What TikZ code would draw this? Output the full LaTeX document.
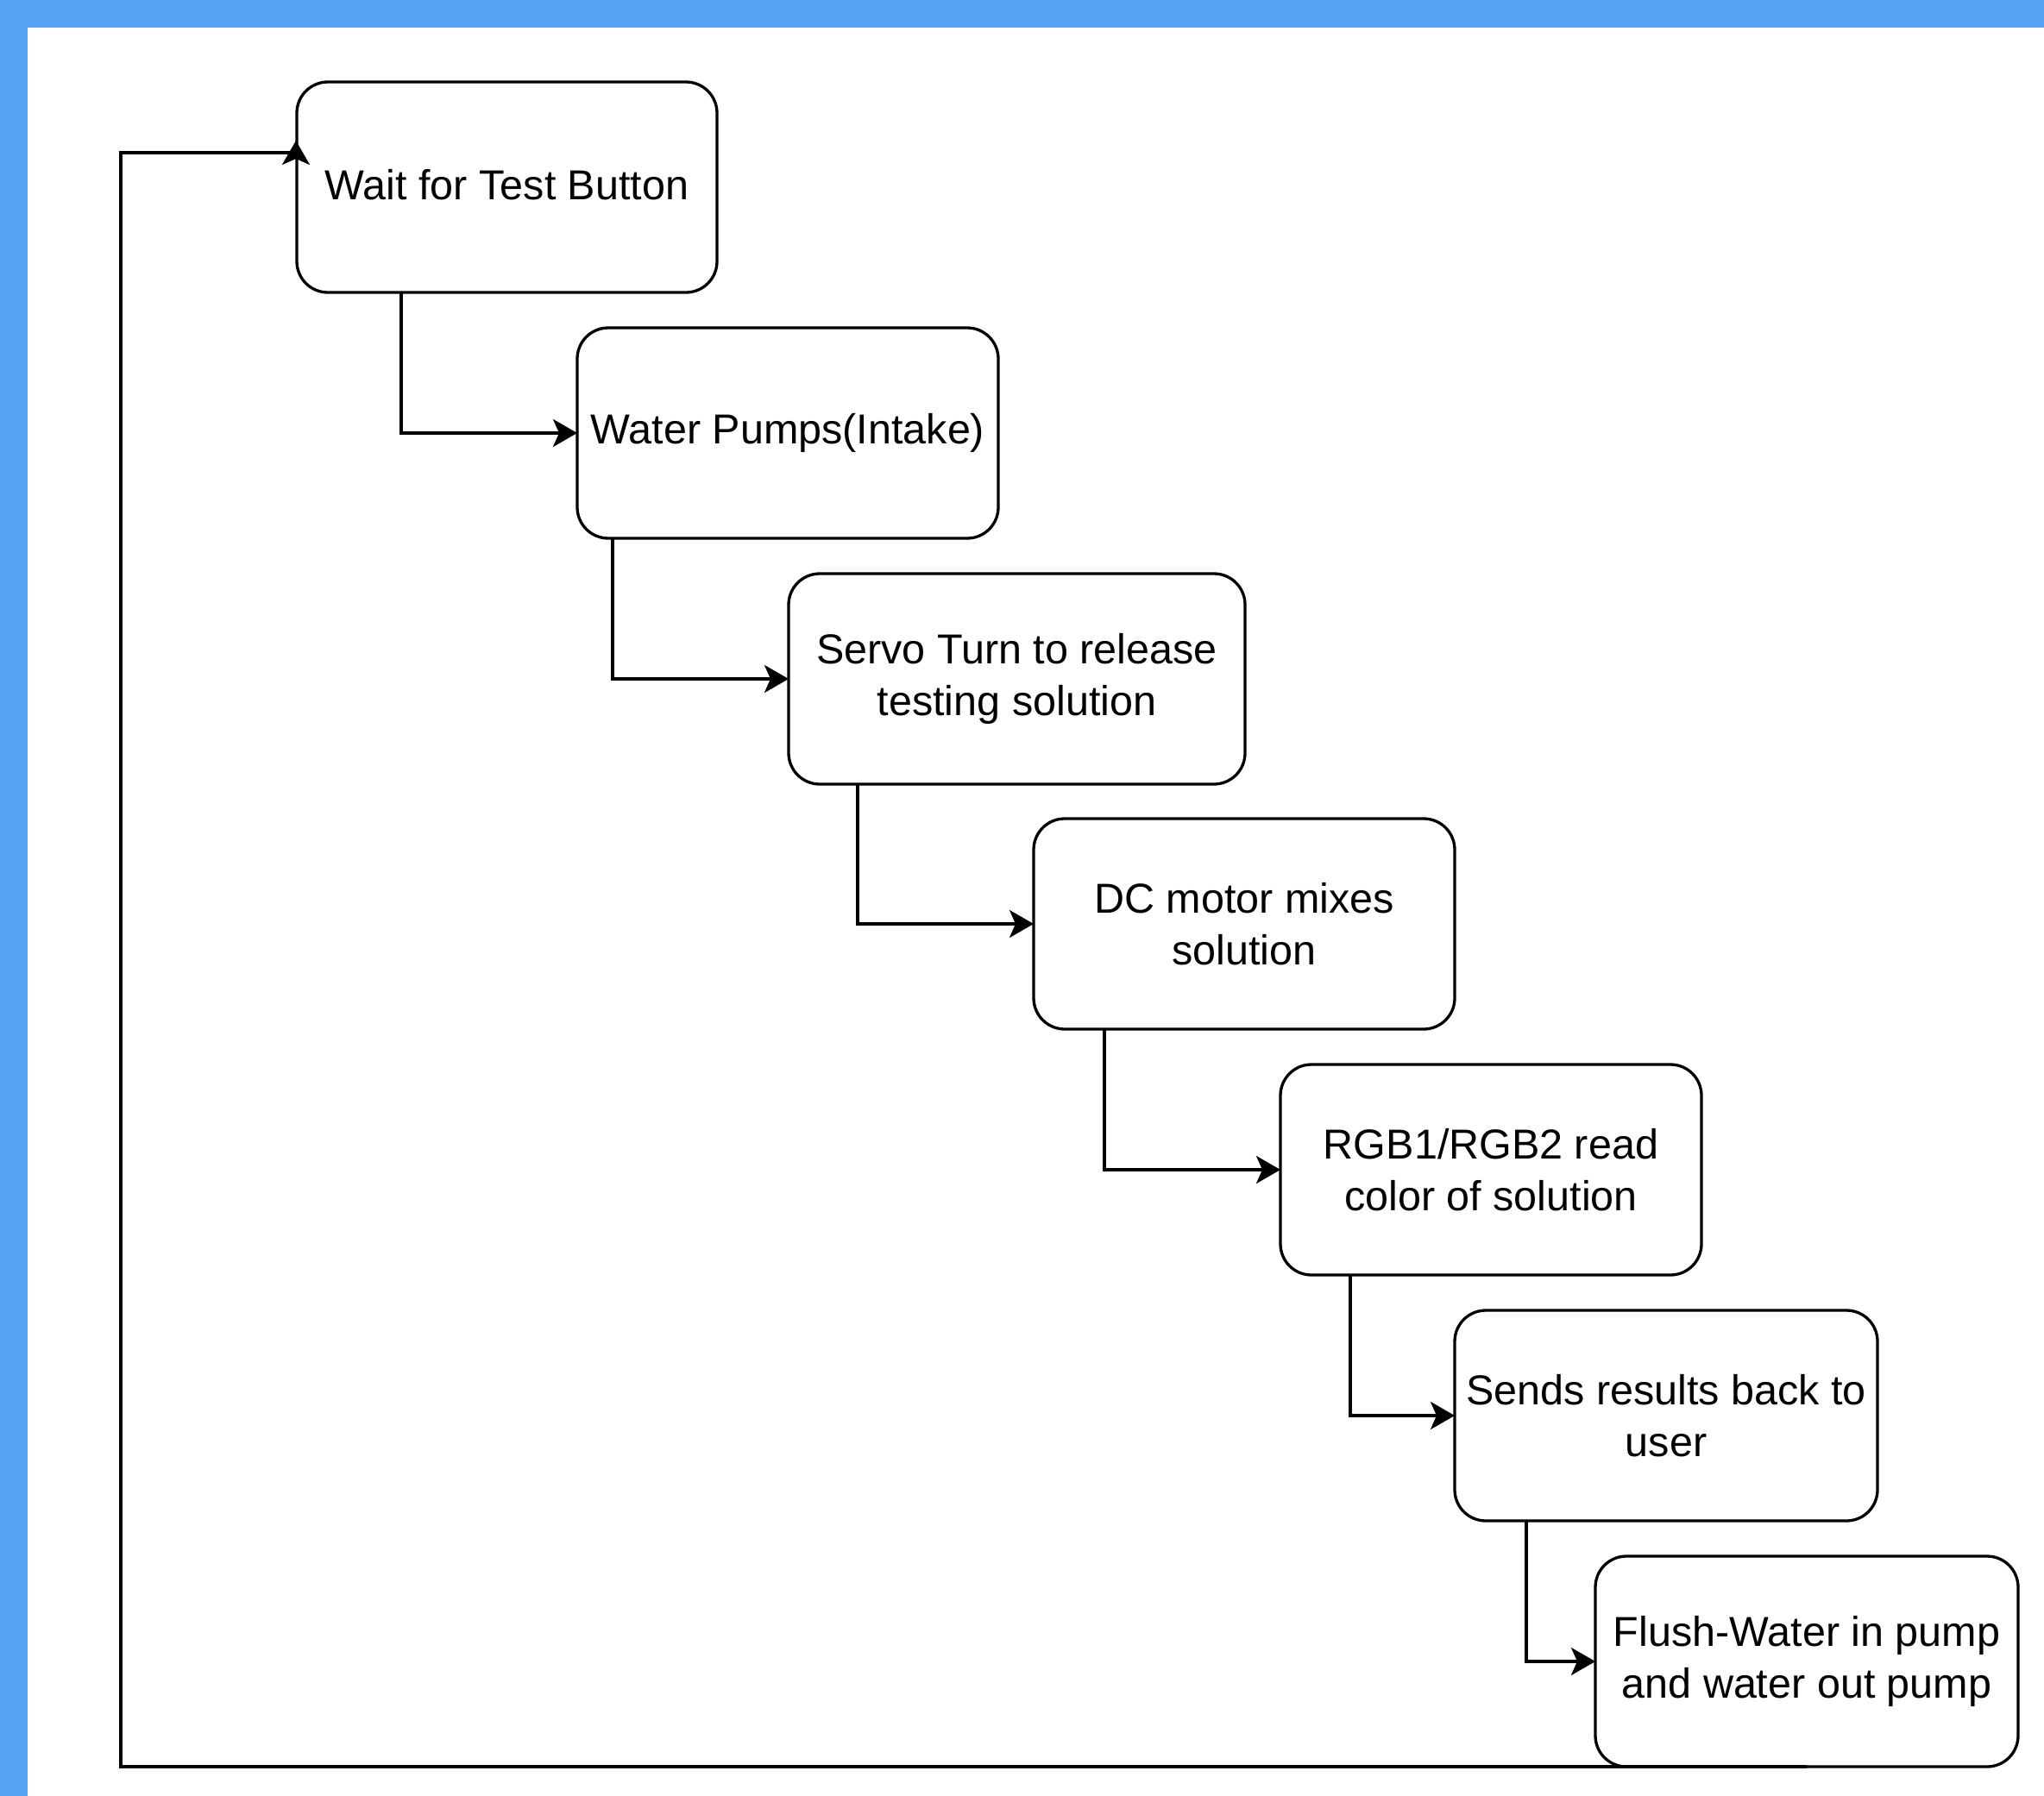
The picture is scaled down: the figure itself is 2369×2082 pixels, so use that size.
\documentclass[tikz,border=0pt]{standalone}
\usepackage{fontspec}
\setmainfont{Liberation Sans}
\usetikzlibrary{arrows.meta}
\definecolor{bandblue}{RGB}{88,164,244}
\tikzset{
  flowbox/.style={draw=black, line width=3.3pt, fill=white, rounded corners=36pt,
    minimum height=244pt, inner sep=0pt, outer sep=0pt, anchor=north west,
    align=center, font=\fontsize{48.5}{60}\selectfont},
  conn/.style={draw=black, line width=3.3pt, -{Stealth[length=28pt,width=32pt,inset=7pt]}},
  plainconn/.style={draw=black, line width=3.3pt}
}
\begin{document}
\begin{tikzpicture}[x=1pt,y=-1pt]
\useasboundingbox (0,0) rectangle (2369,2082);
\fill[bandblue] (0,0) rectangle (2369,2082);
\fill[white] (32,32) rectangle (2369,2082);

\node[flowbox, minimum width=487pt] (b1) at (344,95) {\raisebox{6pt}{Wait for Test Button}};
\node[flowbox, minimum width=488pt] (b2) at (669,380) {Water Pumps(Intake)};
\node[flowbox, minimum width=529pt] (b3) at (914,665) {Servo Turn to release\\testing solution};
\node[flowbox, minimum width=488pt] (b4) at (1198,949) {DC motor mixes\\solution};
\node[flowbox, minimum width=488pt] (b5) at (1484,1234) {RGB1/RGB2 read\\color of solution};
\node[flowbox, minimum width=490pt] (b6) at (1686,1519) {Sends results back to\\user};
\node[flowbox, minimum width=490pt] (b7) at (1849,1804) {Flush-Water in pump\\and water out pump};

\draw[conn] ([xshift=121pt]b1.south west) |- (b2.west);
\draw[conn] ([xshift=41pt]b2.south west) |- (b3.west);
\draw[conn] ([xshift=80pt]b3.south west) |- (b4.west);
\draw[conn] ([xshift=82pt]b4.south west) |- (b5.west);
\draw[conn] ([xshift=81pt]b5.south west) |- (b6.west);
\draw[conn] ([xshift=83pt]b6.south west) |- (b7.west);

\coordinate (lpA) at (140,2048);
\coordinate (lpB) at (140,177);
\coordinate (lpC) at (343,177);
\coordinate (lpD) at (343,163);
\draw[plainconn] (b7.south) -- (lpA) -- (lpB) -- (lpC);
\draw[conn] (lpC) -- (lpD);
\end{tikzpicture}
\end{document}
